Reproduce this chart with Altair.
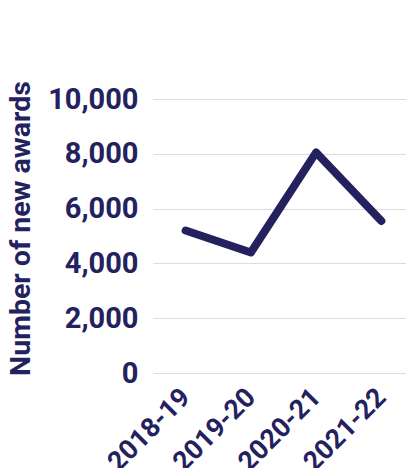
import altair as alt
import pandas as pd

years = ["2018-19", "2019-20", "2020-21", "2021-22"]
awards = [5200, 4400, 8050, 5550]

df = pd.DataFrame({"year": years, "awards": awards})

navy = "#24215F"

chart = alt.Chart(df).mark_line(
    color=navy, strokeWidth=8, strokeCap="round", strokeJoin="round"
).encode(
    x=alt.X("year:N", sort=years, scale=alt.Scale(type="point", padding=0.5),
            axis=alt.Axis(title=None, labelAngle=-45, labelAlign="right", labelBaseline="middle",
                          labelFontSize=27, labelFontWeight="bold",
                          labelColor=navy, labelFont="Roboto", domain=False, ticks=False,
                          grid=False, labelPadding=20)),
    y=alt.Y("awards:Q", scale=alt.Scale(domain=[0, 10000]),
            axis=alt.Axis(title="Number of new awards", values=[0, 2000, 4000, 6000, 8000, 10000],
                          format=",d", labelFontSize=29, labelFontWeight="bold", labelColor=navy,
                          labelFont="Roboto", titleFont="Roboto", titleFontSize=28.5,
                          titleFontWeight="bold", titleColor=navy, domain=False, ticks=False,
                          gridColor="#dddddd", gridWidth=1, labelPadding=15, titlePadding=12,
                          titleY=129)),
).properties(
    width=261, height=274,
    autosize=alt.AutoSizeParams(type="none"),
    padding={"left": 145, "top": 91, "right": -8, "bottom": 100},
).configure_view(stroke=None)

chart.save("out.html", embed_options={"renderer": "svg", "actions": False})
